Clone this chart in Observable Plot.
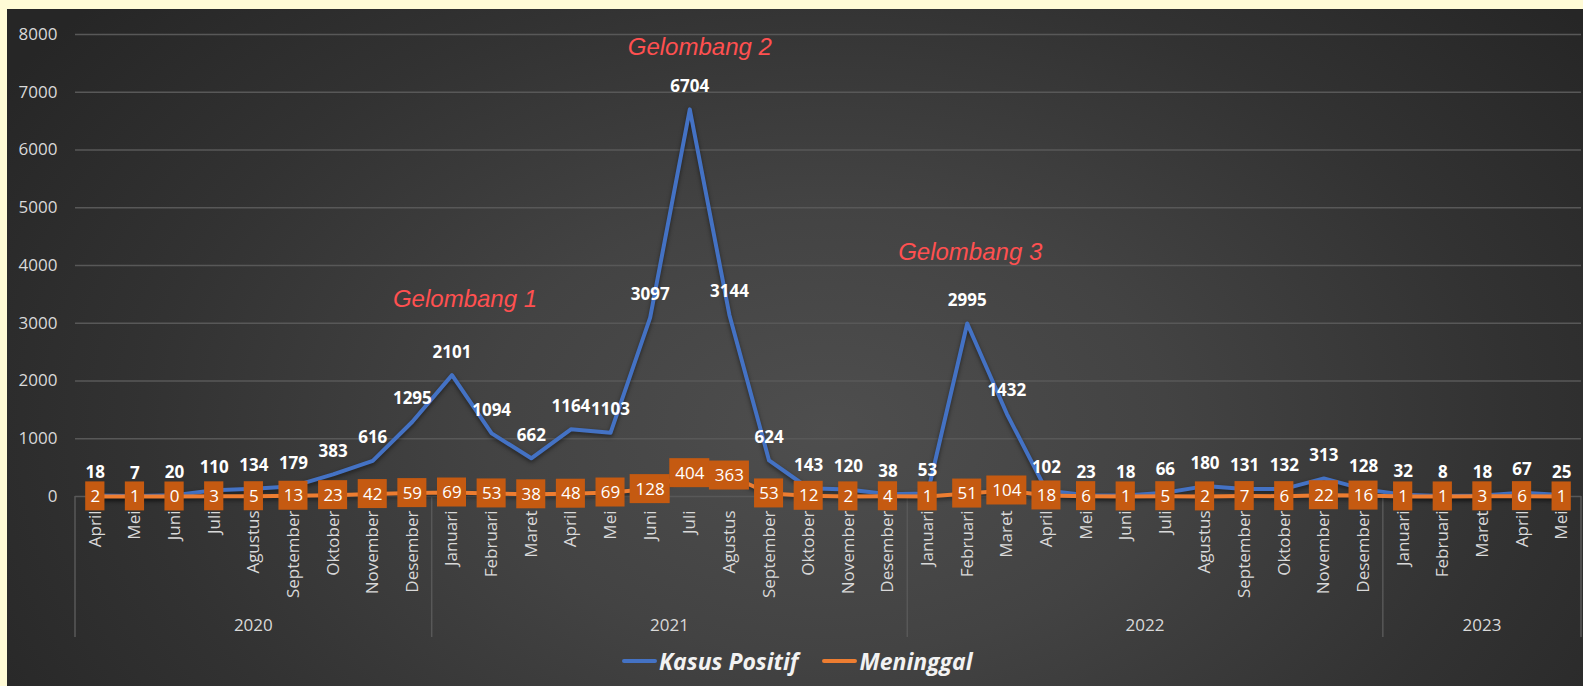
<!DOCTYPE html>
<html>
<head>
<meta charset="utf-8">
<script src="https://cdn.jsdelivr.net/npm/d3@7"></script>
<script src="https://cdn.jsdelivr.net/npm/@observablehq/plot@0.6"></script>
<style>
  html, body { margin: 0; padding: 0; width: 1583px; height: 686px; overflow: hidden; background: #FFFBD6; }
  #panel { position: absolute; left: 7px; top: 9px; width: 1576px; height: 677px;
    background: radial-gradient(ellipse 62% 95% at 52% 62%, #4e4e4e 0%, #434343 35%, #323232 70%, #262626 100%); }
  #chart { position: absolute; left: 0; top: 0; }
  #legend { position: absolute; left: 615px; top: 637px; height: 30px; display: flex; align-items: center;
    font-family: 'Open Sans', sans-serif; font-weight: 700; font-style: italic; font-size: 23px; color: #f2f2f2; }
  .sw { display: inline-block; width: 35px; height: 4px; border-radius: 2px; margin-right: 2px; }
  .item { display: flex; align-items: center; margin-right: 24px; }
</style>
</head>
<body>
<div id="panel">
  <div id="chart"></div>
  <div id="legend"></div>
</div>
<script>
const monthLabels = ["April","Mei","Juni","Juli","Agustus","September","Oktober","November","Desember",
  "Januari","Februari","Maret","April","Mei","Juni","Juli","Agustus","September","Oktober","November","Desember",
  "Januari","Februari","Maret","April","Mei","Juni","Juli","Agustus","September","Oktober","November","Desember",
  "Januari","Februari","Maret","April","Mei"];
const yearLabels = ["2020","2021","2022","2023"];
const monthsPerYear = [9, 12, 12, 5];
const kasusPositif = [18,7,20,110,134,179,383,616,1295,
  2101,1094,662,1164,1103,3097,6704,3144,624,143,120,38,
  53,2995,1432,102,23,18,66,180,131,132,313,128,
  32,8,18,67,25];
const meninggal = [2,1,0,3,5,13,23,42,59,
  69,53,38,48,69,128,404,363,53,12,2,4,
  1,51,104,18,6,1,5,2,7,6,22,16,
  1,1,3,6,1];
const yTicks = [0,1000,2000,3000,4000,5000,6000,7000,8000];
const seriesNames = ["Kasus Positif", "Meninggal"];
const seriesColors = ["#4472C4", "#ED7D31"];
const waveLabels = ["Gelombang 1", "Gelombang 2", "Gelombang 3"];
const waveMonth = [9, 15, 22];
const waveValue = [3410, 7775, 4225];
const waveDx = [13, 10, 3];

const rows = kasusPositif.map((k, i) => ({i, kasus: k, mati: meninggal[i]}));
const gridColor = "#585858";
const tickColor = "#d9d9d9";

function yearGroups(index, scales, values, dims) {
  const x = scales.x;
  const bw = x.bandwidth ? x.bandwidth() : 0;
  const y0 = dims.height - dims.marginBottom;
  const g = d3.create("svg:g");
  let start = 0;
  monthsPerYear.forEach((n, k) => {
    const a = start, b = start + n - 1;
    g.append("line").attr("x1", x(a)).attr("x2", x(a)).attr("y1", y0).attr("y2", y0 + 141)
      .attr("stroke", gridColor).attr("stroke-width", 1.5);
    g.append("text").attr("x", (x(a) + x(b) + bw) / 2).attr("y", y0 + 129).attr("dy", "0.35em")
      .attr("text-anchor", "middle").attr("fill", tickColor).attr("font-size", 17).text(yearLabels[k]);
    start += n;
  });
  const xe = x(start - 1) + bw;
  g.append("line").attr("x1", xe).attr("x2", xe).attr("y1", y0).attr("y2", y0 + 141)
    .attr("stroke", gridColor).attr("stroke-width", 1.5);
  return g.node();
}

const insets = {1: 10.2, 2: 5.3, 3: -0.2};

const plot = Plot.plot({
  width: 1576, height: 640,
  marginLeft: 68, marginRight: 2, marginTop: 25, marginBottom: 153,
  style: {background: "transparent", fontFamily: "'Open Sans', sans-serif", fontSize: "17px", color: tickColor, overflow: "visible"},
  x: {type: "band", domain: d3.range(rows.length), padding: 0, round: false, axis: null},
  y: {domain: [0, 8000], axis: null},
  marks: [
    Plot.ruleY(yTicks, {stroke: gridColor, strokeWidth: 1.5}),
    Plot.axisY({ticks: yTicks, tickSize: 0, tickPadding: 18, tickFormat: d => String(d), fill: tickColor, fontSize: 17, label: null}),
    Plot.axisX({tickSize: 0, tickRotate: -90, tickPadding: 14, tickFormat: i => monthLabels[i], fill: tickColor, fontSize: 17, label: null}),
    yearGroups,
    Plot.line(rows, {x: "i", y: "kasus", stroke: seriesColors[0], strokeWidth: 4, strokeLinejoin: "round"}),
    Plot.text(rows, {x: "i", y: "kasus", text: d => String(d.kasus), dy: -23, fill: "#ffffff", fontWeight: "bold", fontSize: 17}),
    Plot.line(rows, {x: "i", y: "mati", stroke: seriesColors[1], strokeWidth: 4, strokeLinejoin: "round"}),
    ...[1, 2, 3].map(n => Plot.barY(rows.filter(d => String(d.mati).length === n),
      {x: "i", y1: "mati", y2: "mati", fill: "#C55A11", insetLeft: insets[n], insetRight: insets[n], insetTop: -14.5, insetBottom: -14.5})),
    Plot.text(rows, {x: "i", y: "mati", text: d => String(d.mati), fill: "#ffffff", fontSize: 17}),
    ...waveLabels.map((t, k) => Plot.text([{i: waveMonth[k], v: waveValue[k], t}],
      {x: "i", y: "v", text: "t", dx: waveDx[k], fill: "#FF5050", fontSize: 24, fontStyle: "italic", fontFamily: "'Liberation Sans', Arial, sans-serif"}))
  ]
});
plot.querySelectorAll('g[aria-label="line"] path').forEach(p => p.style.filter = "drop-shadow(0px 2px 2px rgba(0,0,0,0.5))");
document.getElementById("chart").appendChild(plot);

const legend = d3.select("#legend");
seriesNames.forEach((name, k) => {
  const it = legend.append("div").attr("class", "item");
  it.append("span").attr("class", "sw").style("background", seriesColors[k]);
  it.append("span").text(name);
});
</script>
</body>
</html>
